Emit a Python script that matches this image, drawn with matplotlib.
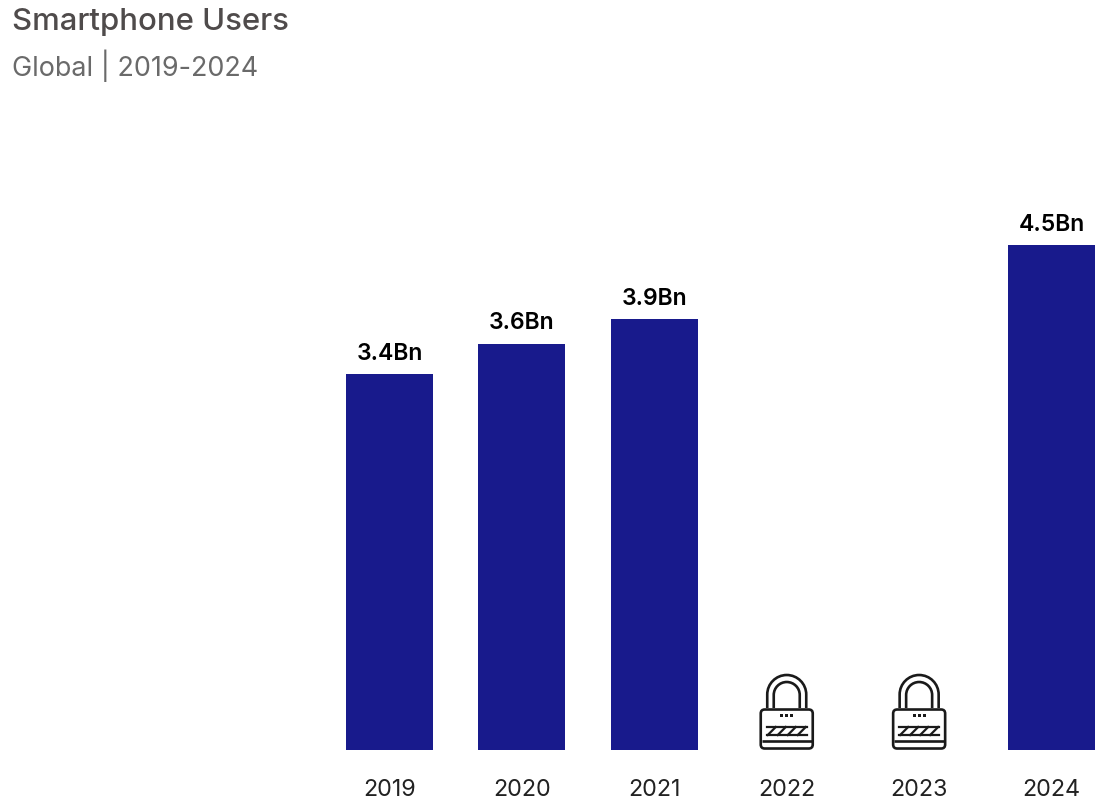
import matplotlib
matplotlib.use('Agg')
import matplotlib.pyplot as plt
from matplotlib.patches import FancyBboxPatch, PathPatch
from matplotlib.path import Path
from matplotlib.transforms import Affine2D, ScaledTranslation

# Datos
years = ['2019', '2020', '2021', '2022', '2023', '2024']
users = [3.36, 3.63, 3.85, None, None, 4.51]
labels = ['3.4Bn', '3.6Bn', '3.9Bn', None, None, '4.5Bn']

plt.rcParams['font.family'] = ['Inter', 'DejaVu Sans']

fig = plt.figure(figsize=(11.2, 8.12), dpi=100)
ax = fig.add_axes([0, 0, 1, 1])
ax.set_xlim(-2.942, 5.517)
ax.set_ylim(-0.545, 6.711)
ax.axis('off')


# Candado dibujado en pixeles alrededor de la base de la categoria
def draw_lock(x):
    tr = Affine2D() + ScaledTranslation(x, 0, ax.transData)
    lw = 1.9
    col = '#1a1a1a'
    body = FancyBboxPatch((-26, 1.5), 52, 39, boxstyle='round,pad=0,rounding_size=4',
                          fc='white', ec=col, lw=lw, transform=tr)
    ax.add_patch(body)
    # arco exterior e interior
    for half, top in [(19.5, 75), (13, 68)]:
        r = half
        k = 0.5523 * r
        verts = [(-half, 42), (-half, top - r), (-half, top - r + k), (-k, top), (0, top),
                 (k, top), (half, top - r + k), (half, top - r), (half, 42)]
        codes = [Path.MOVETO, Path.LINETO, Path.CURVE4, Path.CURVE4, Path.CURVE4,
                 Path.CURVE4, Path.CURVE4, Path.CURVE4, Path.LINETO]
        ax.add_patch(PathPatch(Path(verts, codes), fc='none', ec=col, lw=lw, transform=tr))
    ax.plot([-25, 25], [9, 9], color=col, lw=lw, transform=tr, solid_capstyle='butt')
    for dx in [-5, 0, 5]:
        ax.add_patch(PathPatch(Path([(dx - 1.4, 33), (dx + 1.4, 33), (dx + 1.4, 36), (dx - 1.4, 36), (dx - 1.4, 33)]),
                               fc=col, ec='none', transform=tr))
    ax.plot([-20, 20], [23, 23], color=col, lw=1.6, transform=tr)
    ax.plot([-20, 20], [15, 15], color=col, lw=1.6, transform=tr)
    for dx in [-14, -4, 6, 16]:
        ax.plot([dx - 5, dx + 3], [15, 23], color=col, lw=1.6, transform=tr)


for i, (val, lab) in enumerate(zip(users, labels)):
    if val is None:
        draw_lock(i)
        continue
    ax.bar(i, val, width=0.657, color='#181a8c')
    ax.annotate(lab, (i, val), xytext=(0, 7.5), textcoords='offset points', ha='center',
                va='bottom', fontsize=16.5, fontweight='semibold', color='black')

for i, year in enumerate(years):
    ax.text(i, -0.345, year, ha='center', va='center', fontsize=16.8, color='#222222')

fig.text(12 / 1120, 1 - 22 / 812, 'Smartphone Users', fontsize=22.4, fontweight='medium',
         color='#4f4b4b', va='center')
fig.text(12 / 1120, 1 - 66 / 812, 'Global | 2019-2024', fontsize=19.4, color='#6a6a6a', va='center')

fig.savefig('out.png', dpi=100)
